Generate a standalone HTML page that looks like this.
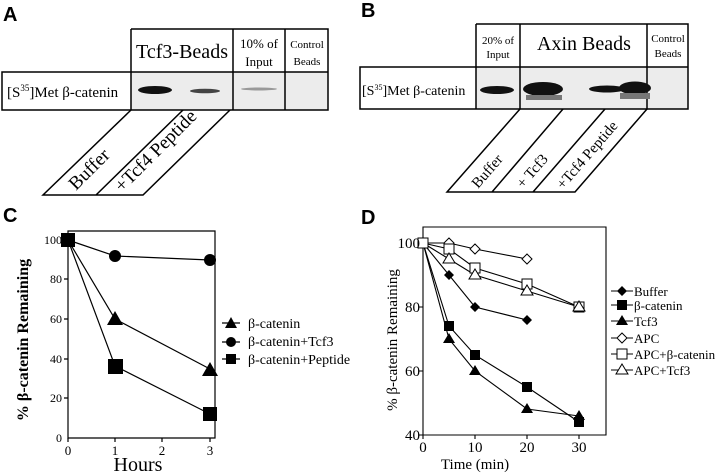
<!DOCTYPE html>
<html><head><meta charset="utf-8"><style>
body{margin:0;background:#fff;}
svg{display:block;}
text{font-family:"Liberation Serif",serif;}
.lab{font-family:"Liberation Sans",sans-serif;font-weight:bold;font-size:20px;}
</style></head><body>
<svg width="720" height="475" viewBox="0 0 720 475" xmlns="http://www.w3.org/2000/svg" font-family="Liberation Serif, serif">
<g fill="none" stroke="#000" stroke-width="1.5">
<rect x="131" y="72" width="197" height="38" fill="#ececec" stroke="none"/>
<path d="M131 29H328V110H2V72H328M131 29V110M233 29V110M285 29V110"/>
<path d="M131 110L43 195H143L230 110M183 110L96 195"/>
<rect x="476" y="67" width="212" height="42" fill="#ececec" stroke="none"/>
<path d="M476 24H688V109H360V67H688M476 24V109M520 24V109M647 24V109"/>
<path d="M520 109L447 192H575L647 109M563 109L492 192M605 109L533 192"/>
</g>
<ellipse cx="155" cy="90" rx="17" ry="4" fill="#111"/>
<ellipse cx="205" cy="91" rx="15" ry="2.3" fill="#444"/>
<ellipse cx="259" cy="89" rx="18" ry="1.5" fill="#999"/>
<ellipse cx="497" cy="90" rx="17" ry="4" fill="#111"/>
<ellipse cx="543" cy="89" rx="20" ry="7" fill="#111"/>
<rect x="526" y="95" width="36" height="5" fill="#777"/>
<ellipse cx="607" cy="89" rx="18" ry="3.5" fill="#111"/>
<ellipse cx="635" cy="88" rx="16" ry="6.5" fill="#111"/>
<rect x="620" y="93" width="30" height="6" fill="#777"/>
<text class="lab" x="3" y="21" font-family="Liberation Sans, sans-serif">A</text>
<text x="182" y="58" font-size="20" text-anchor="middle" textLength="92">Tcf3-Beads</text>
<text x="259" y="48" font-size="13" text-anchor="middle">10% of</text>
<text x="259" y="66" font-size="13" text-anchor="middle">Input</text>
<text x="307" y="48" font-size="11" text-anchor="middle">Control</text>
<text x="307" y="65" font-size="11" text-anchor="middle">Beads</text>
<text x="7" y="97" font-size="15">[S<tspan font-size="9" dy="-6">35</tspan><tspan dy="6">]Met β-catenin</tspan></text>
<text x="76" y="191" font-size="19" transform="rotate(-45 76 191)">Buffer</text>
<text x="122" y="193" font-size="19" transform="rotate(-45 122 193)">+Tcf4 Peptide</text>
<text class="lab" x="361" y="17" font-family="Liberation Sans, sans-serif">B</text>
<text x="498" y="44" font-size="11" text-anchor="middle">20% of</text>
<text x="498" y="58" font-size="11" text-anchor="middle">Input</text>
<text x="584" y="50" font-size="20" text-anchor="middle">Axin Beads</text>
<text x="668" y="42" font-size="11" text-anchor="middle">Control</text>
<text x="668" y="57" font-size="11" text-anchor="middle">Beads</text>
<text x="362" y="95" font-size="14">[S<tspan font-size="8" dy="-5">35</tspan><tspan dy="5">]Met β-catenin</tspan></text>
<text x="478" y="189" font-size="15" transform="rotate(-49 478 189)">Buffer</text>
<text x="523" y="189" font-size="15" transform="rotate(-49 523 189)">+ Tcf3</text>
<text x="563" y="190" font-size="15" transform="rotate(-49 563 190)">+Tcf4 Peptide</text>

<text class="lab" x="3" y="222" font-family="Liberation Sans, sans-serif">C</text>
<g stroke="#000" fill="none" stroke-width="1.2">
<path d="M68 231H215V438H68Z"/>
<path d="M64 240H68M64 279H68M64 319H68M64 359H68M64 398H68M68 438V442M115 438V442M162 438V442M210 438V442"/>
<polyline points="68,240 115,319 210,369"/>
<polyline points="68,240 115,256 210,260"/>
<polyline points="68,240 115,366 210,414"/>
<path d="M222 323H240M222 342H240M222 359H240"/>
</g>
<g fill="#000">
<circle cx="115" cy="256" r="6"/><circle cx="210" cy="260" r="6"/>
<path d="M115 311L123 325H107ZM210 362L218 376H202Z"/>
<rect x="108" y="359" width="15" height="15"/><rect x="203" y="407" width="14" height="14"/>
<rect x="61" y="233" width="14" height="14"/>
<path d="M231 317L237 328H225Z"/><circle cx="231" cy="342" r="5"/><rect x="226" y="354" width="10" height="10"/>
</g>
<g font-size="12" text-anchor="end">
<text x="62" y="244">100</text><text x="62" y="283">80</text><text x="62" y="323">60</text><text x="62" y="363">40</text><text x="62" y="402">20</text><text x="62" y="442">0</text>
</g>
<g font-size="13" text-anchor="middle">
<text x="68" y="455">0</text><text x="115" y="455">1</text><text x="162" y="455">2</text><text x="210" y="455">3</text>
</g>
<text x="138" y="471" font-size="20" text-anchor="middle">Hours</text>
<text x="0" y="0" font-size="16" font-weight="bold" text-anchor="middle" transform="translate(28 340) rotate(-90)">% β-catenin Remaining</text>
<g font-size="14">
<text x="248" y="328">β-catenin</text><text x="248" y="346">β-catenin+Tcf3</text><text x="248" y="364">β-catenin+Peptide</text>
</g>

<text class="lab" x="361" y="224" font-family="Liberation Sans, sans-serif">D</text>
<g stroke="#000" fill="none" stroke-width="1.1">
<path d="M423 227H606V435H423Z"/>
<path d="M419 243H423M419 307H423M419 371H423M419 435H423M423 435V439M475 435V439M527 435V439M579 435V439"/>
<polyline points="423,243 449,275 475,307 527,320"/>
<polyline points="423,243 449,326 475,355 527,387 579,422"/>
<polyline points="423,243 449,339 475,371 527,409 579,416"/>
<polyline points="423,243 449,243 475,249 527,259"/>
<polyline points="423,243 449,249 475,268 527,284 579,307"/>
<polyline points="423,243 449,259 475,275 527,291 579,307"/>
<path d="M611 291H633M611 305H633M611 321H633M611 338H633M611 354H633M611 370H633"/>
</g>
<g fill="#000">
<path d="M449 270l5 5-5 5-5-5zM475 302l5 5-5 5-5-5zM527 315l5 5-5 5-5-5zM622 286l5 5-5 5-5-5z"/>
<rect x="444" y="321" width="10" height="10"/><rect x="470" y="350" width="10" height="10"/><rect x="522" y="382" width="10" height="10"/><rect x="574" y="417" width="10" height="10"/><rect x="617" y="300" width="10" height="10"/>
<path d="M449 333l6 10h-12zM475 365l6 10h-12zM527 403l6 10h-12zM579 410l6 10h-12zM622 315l6 10h-12z"/>
</g>
<g fill="#fff" stroke="#000" stroke-width="1">
<path d="M449 238l5 5-5 5-5-5zM475 244l5 5-5 5-5-5zM527 254l5 5-5 5-5-5zM622 333l5 5-5 5-5-5zM423 238l5 5-5 5-5-5z"/>
<rect x="444" y="244" width="10" height="10"/><rect x="470" y="263" width="10" height="10"/><rect x="522" y="279" width="10" height="10"/><rect x="574" y="302" width="10" height="10"/><rect x="617" y="349" width="10" height="10"/><rect x="418" y="238" width="10" height="10"/>
<path d="M449 253l6 10h-12zM475 269l6 10h-12zM527 285l6 10h-12zM579 301l6 10h-12zM622 364l6 10h-12z"/>
</g>
<g font-size="15" text-anchor="end">
<text x="420" y="248">100</text><text x="420" y="312">80</text><text x="420" y="376">60</text><text x="420" y="440">40</text>
</g>
<g font-size="15" text-anchor="middle">
<text x="423" y="452">0</text><text x="475" y="452">10</text><text x="527" y="452">20</text><text x="579" y="452">30</text>
</g>
<text x="475" y="469" font-size="15" text-anchor="middle">Time (min)</text>
<text x="0" y="0" font-size="15" text-anchor="middle" transform="translate(397 340) rotate(-90)">% β-catenin Remaining</text>
<g font-size="13">
<text x="634" y="296">Buffer</text><text x="634" y="310">β-catenin</text><text x="634" y="326">Tcf3</text><text x="634" y="343">APC</text><text x="634" y="359">APC+β-catenin</text><text x="634" y="375">APC+Tcf3</text>
</g>
</svg>
</body></html>
